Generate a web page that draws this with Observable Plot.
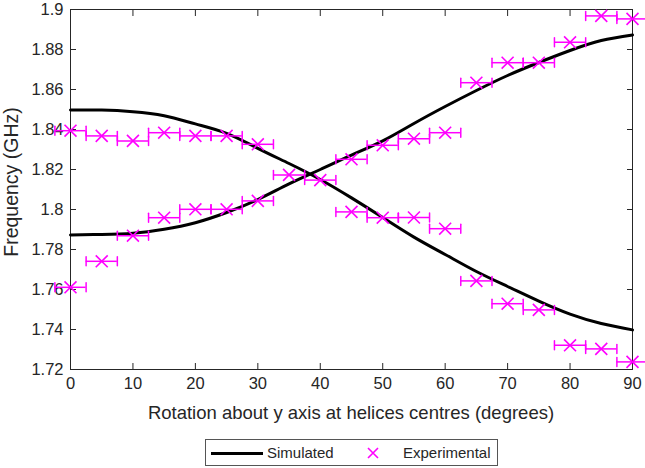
<!DOCTYPE html>
<html>
<head>
<meta charset="utf-8">
<script src="https://cdn.jsdelivr.net/npm/d3@7"></script>
<script src="https://cdn.jsdelivr.net/npm/@observablehq/plot@0.6"></script>
<style>
  body { margin: 0; background: #fff; font-family: "Liberation Sans", Arial, sans-serif; }
  #wrap { position: relative; width: 645px; height: 468px; overflow: hidden; }
  #legend { position: absolute; left: 205px; top: 439px; width: 291px; height: 25px;
    border: 1px solid #555; box-sizing: content-box; font-size: 15px; color: #262626; }
  #legend .line { position: absolute; left: 5px; top: 12px; width: 52px; height: 3px; background: #000; }
  #legend .t1 { position: absolute; left: 61px; top: 4px; }
  #legend .mk { position: absolute; left: 160px; top: 3px; }
  #legend .t2 { position: absolute; left: 197px; top: 4px; }
  .lab { position: absolute; font-size: 18.5px; color: #262626; white-space: nowrap; line-height: 1; }
  #xlab { left: 351px; top: 413px; transform: translate(-50%, -50%); }
  #ylab { left: 12px; top: 182px; font-size: 19.5px; transform: translate(-50%, -50%) rotate(-90deg); }
</style>
</head>
<body>
<div id="wrap">
  <div id="chart"></div>
  <div class="lab" id="xlab">Rotation about y axis at helices centres (degrees)</div>
  <div class="lab" id="ylab">Frequency (GHz)</div>
  <div id="legend">
    <div class="line"></div><span class="t1">Simulated</span>
    <svg class="mk" width="14" height="20"><path d="M2,5L12,15M12,5L2,15" stroke="#ff00ff" stroke-width="1.6"/></svg>
    <span class="t2">Experimental</span>
  </div>
</div>
<script>
// Simulated curves
const simAngle = [0,5,10,15,20,25,30,35,40,45,50,55,60,65,70,75,80,85,90];
const simUpper = [1.8498,1.8497,1.8489,1.8469,1.8428,1.8381,1.8306,1.8230,1.8150,1.8058,1.7960,1.7862,1.7775,1.7690,1.7615,1.7542,1.7477,1.7430,1.7398];
const simLower = [1.7873,1.7875,1.7881,1.7901,1.7934,1.7985,1.8050,1.8128,1.8200,1.8272,1.8343,1.8430,1.8515,1.8595,1.8670,1.8735,1.8795,1.8845,1.8873];

// Experimental points
const expAngleA = [0,5,10,15,20,25,30,35,40,45,50,55,60,65,70,75,80,85,90];
const expFreqA  = [1.8394,1.8368,1.8343,1.8384,1.8368,1.8368,1.8326,1.8173,1.8147,1.7988,1.7959,1.796,1.7904,1.7643,1.7529,1.7498,1.7321,1.7303,1.7238];
const expAngleB = [0,5,10,15,20,25,30,45,50,55,60,65,70,75,80,85,90];
const expFreqB  = [1.7611,1.7741,1.7869,1.7959,1.8001,1.8001,1.8043,1.8251,1.8321,1.8354,1.8384,1.8634,1.8734,1.8734,1.8836,1.8968,1.8953];
const angleError = 2.5;

const xTicks = [0,10,20,30,40,50,60,70,80,90];
const yTicks = [1.72,1.74,1.76,1.78,1.8,1.82,1.84,1.86,1.88,1.9];
const yTickLabels = ["1.72","1.74","1.76","1.78","1.8","1.82","1.84","1.86","1.88","1.9"];

const sim = [
  ...simAngle.map((a, i) => ({a, f: simUpper[i], s: "upper"})),
  ...simAngle.map((a, i) => ({a, f: simLower[i], s: "lower"}))
];
const exp = [
  ...expAngleA.map((a, i) => ({a, f: expFreqA[i]})),
  ...expAngleB.map((a, i) => ({a, f: expFreqB[i]}))
];

const MAG = "#ff00ff";
const AX = "#262626";
const capShape = {draw(context, l) { context.moveTo(0, -l / 2); context.lineTo(0, l / 2); }};

const chart = Plot.plot({
  width: 645,
  height: 436,
  marginLeft: 70,
  marginRight: 13,
  marginTop: 9,
  marginBottom: 67,
  style: {fontFamily: "'Liberation Sans', Arial, sans-serif", fontSize: "16.5px", color: AX, background: "#fff", overflow: "visible"},
  x: {domain: [0, 90]},
  y: {domain: [1.72, 1.9]},
  marks: [
    Plot.frame({stroke: AX, strokeWidth: 1}),
    Plot.axisX(xTicks, {anchor: "bottom", tickSize: -6, tickPadding: 14, stroke: AX, fontSize: 16.5, label: null}),
    Plot.axisX(xTicks, {anchor: "top", tickSize: -6, tickFormat: () => "", label: null, stroke: AX}),
    Plot.axisY(yTicks, {anchor: "left", tickSize: -6, tickPadding: 13, stroke: AX, fontSize: 16.5,
      tickFormat: (d) => yTickLabels[yTicks.indexOf(d)], label: null}),
    Plot.axisY(yTicks, {anchor: "right", tickSize: -6, tickFormat: () => "", label: null, stroke: AX}),
    Plot.line(sim, {x: "a", y: "f", z: "s", stroke: "#000", strokeWidth: 3, curve: "natural"}),
    Plot.ruleY(exp, {y: "f", x1: (d) => d.a - angleError, x2: (d) => d.a + angleError, stroke: MAG, strokeWidth: 1.5}),
    Plot.vector(exp, {x: (d) => d.a - angleError, y: "f", length: 9, shape: capShape, anchor: "start", stroke: MAG, strokeWidth: 1.5}),
    Plot.vector(exp, {x: (d) => d.a + angleError, y: "f", length: 9, shape: capShape, anchor: "start", stroke: MAG, strokeWidth: 1.5}),
    Plot.dot(exp, {x: "a", y: "f", symbol: "times", r: 5.5, stroke: MAG, strokeWidth: 1.6})
  ]
});
document.getElementById("chart").appendChild(chart);
</script>
</body>
</html>
